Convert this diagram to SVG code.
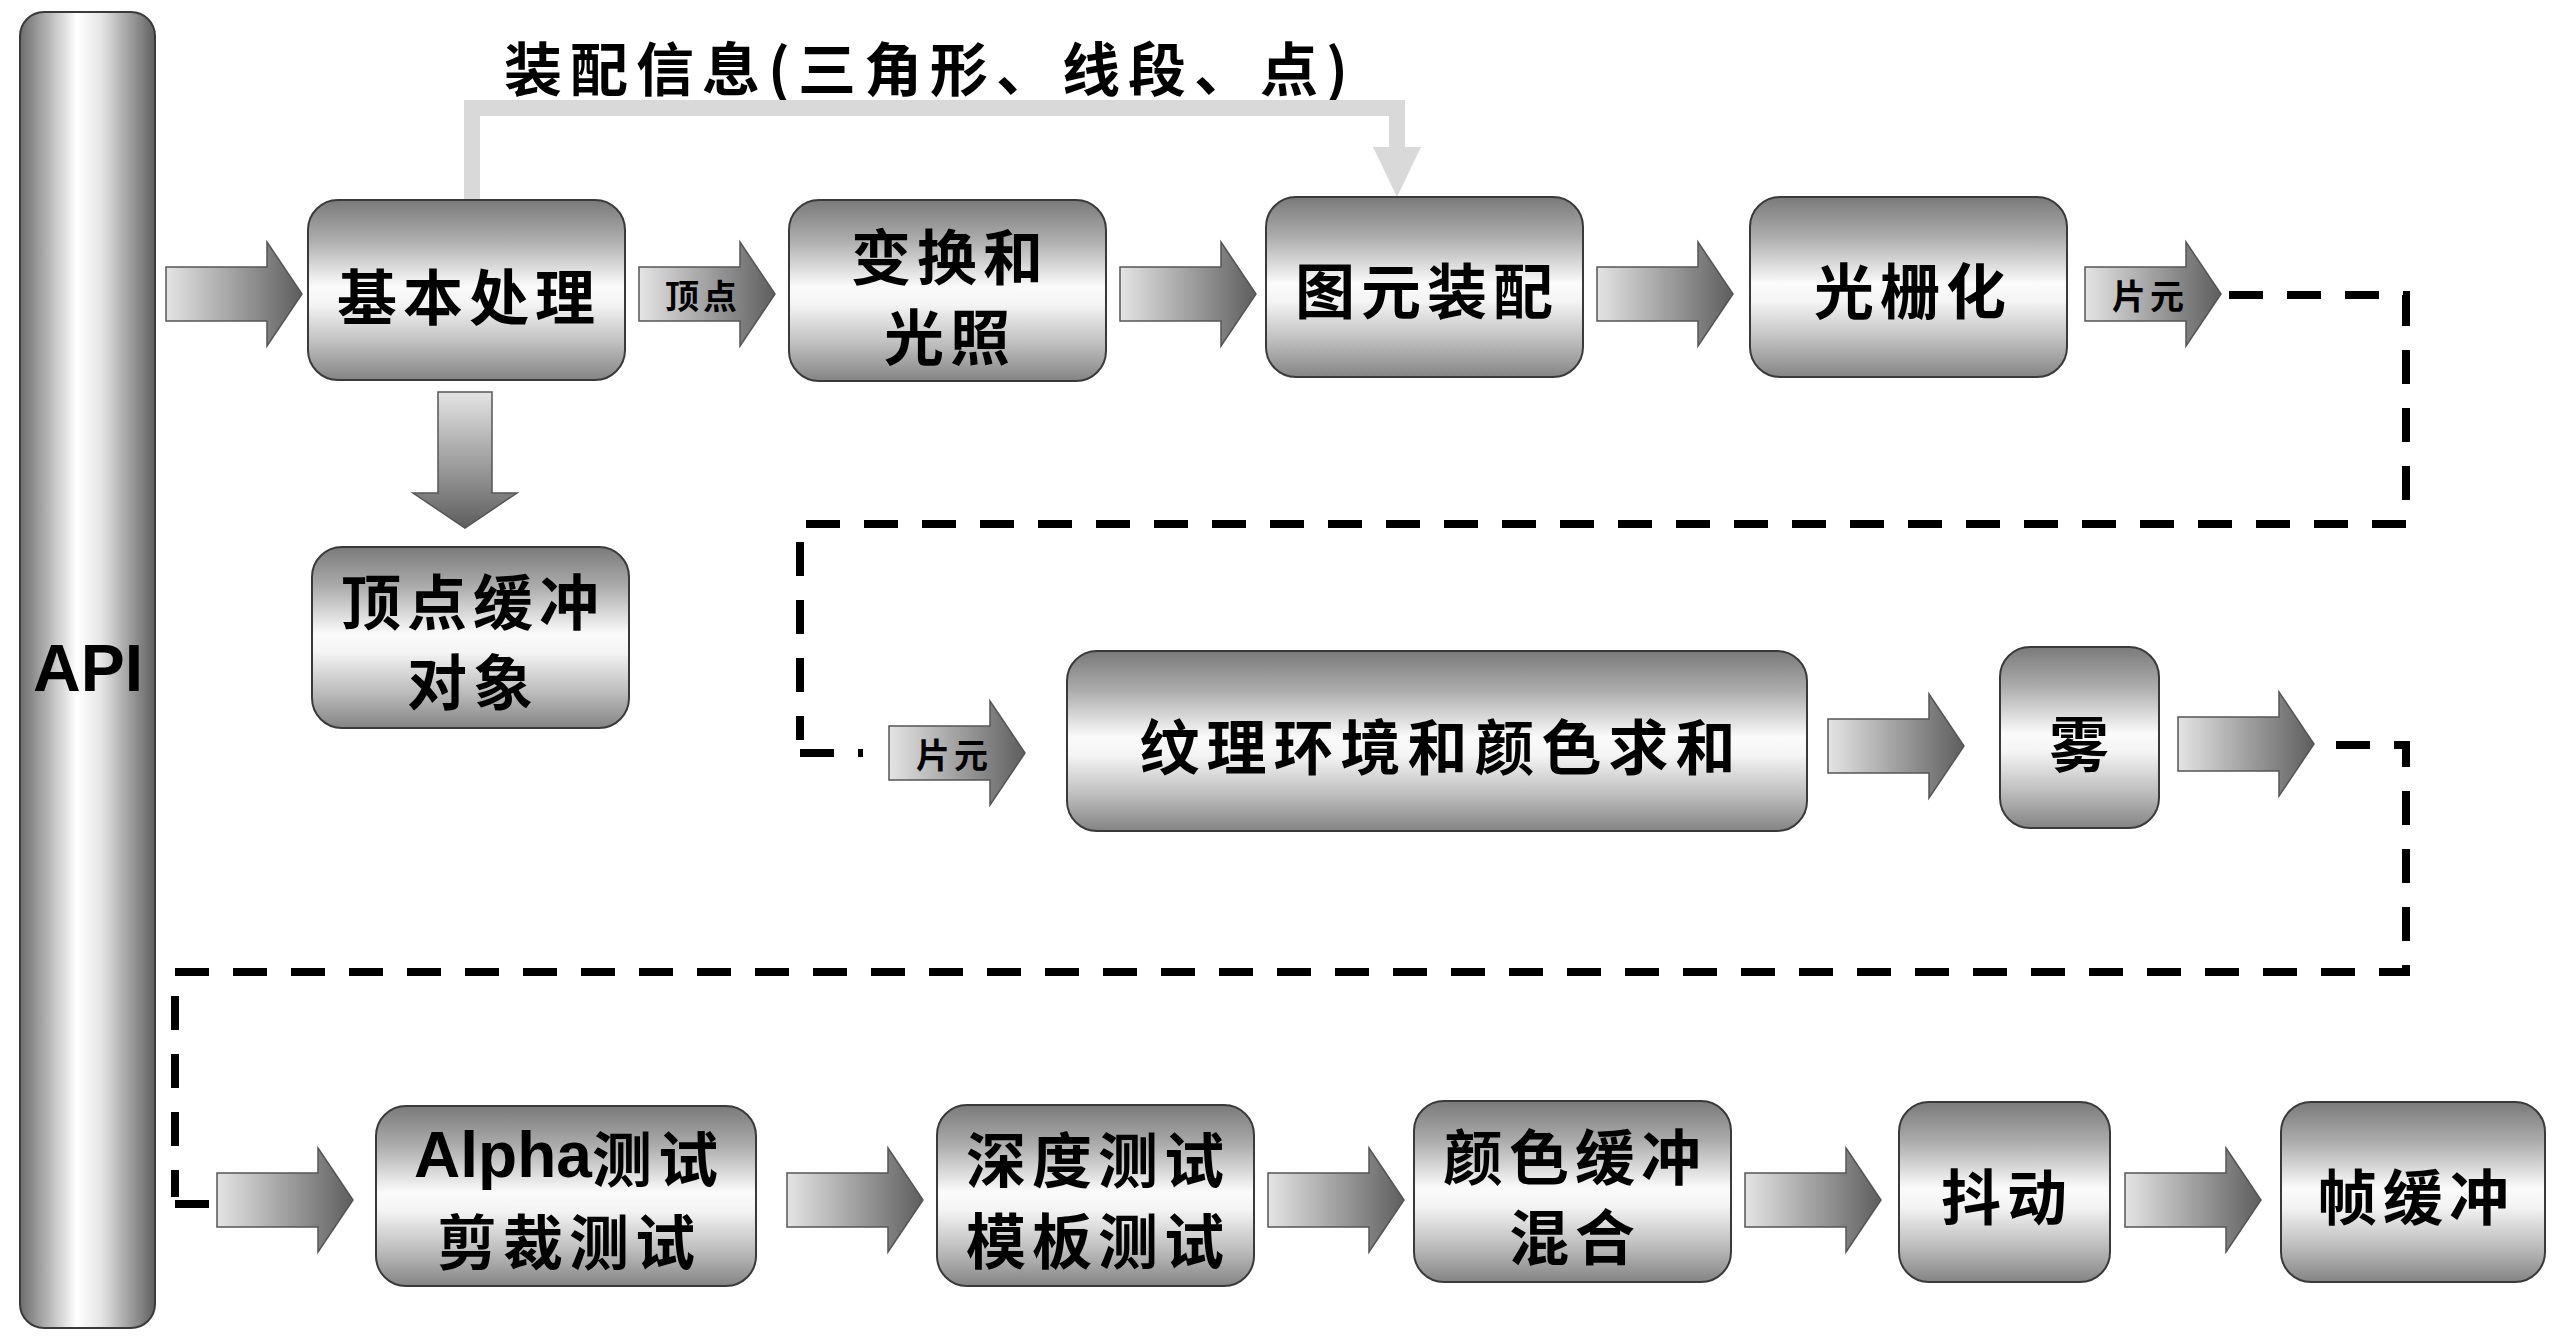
<svg xmlns="http://www.w3.org/2000/svg" xmlns:xlink="http://www.w3.org/1999/xlink" width="2560" height="1339" viewBox="0 0 2560 1339">
  <defs>
    <linearGradient id="gBox" x1="0" y1="0" x2="0" y2="1">
      <stop offset="0" stop-color="#7a7a7a"/>
      <stop offset="0.22" stop-color="#acacac"/>
      <stop offset="0.48" stop-color="#fbfbfb"/>
      <stop offset="0.58" stop-color="#f4f4f4"/>
      <stop offset="0.8" stop-color="#bdbdbd"/>
      <stop offset="1" stop-color="#848484"/>
    </linearGradient>
    <linearGradient id="gApi" x1="0" y1="0" x2="1" y2="0">
      <stop offset="0" stop-color="#6c6c6c"/>
      <stop offset="0.42" stop-color="#ffffff"/>
      <stop offset="0.6" stop-color="#e6e6e6"/>
      <stop offset="1" stop-color="#5f5f5f"/>
    </linearGradient>
    <linearGradient id="gArrow" x1="0" y1="0" x2="1" y2="0">
      <stop offset="0" stop-color="#e4e4e4"/>
      <stop offset="1" stop-color="#5e5e5e"/>
    </linearGradient>
    <!-- block arrow pointing right, tip at (136,0) -->
    <path id="blockArrow" d="M0,-27 H101 V-52 L136,0 L101,52 V27 H0 Z" fill="url(#gArrow)" stroke="#555" stroke-width="1.5"/>
    <style>
      .box { fill: url(#gBox); stroke: #3a3a3a; stroke-width: 2; }
      .t { font-family: "Noto Sans CJK SC", "Liberation Sans", sans-serif; font-weight: 700; fill: #000; text-anchor: middle; dominant-baseline: central; }
      .big { font-size: 60px; letter-spacing: 6px; }
      .small { font-size: 34px; letter-spacing: 4px; }
      .dash { fill: none; stroke: #000; stroke-width: 8; stroke-dasharray: 34 24; }
      .dashEnd { fill: none; stroke: #000; stroke-width: 8; }
      .feed { fill: none; stroke: #d9d9d9; stroke-width: 16; }
    </style>
  </defs>

  <!-- API column -->
  <g id="api">
    <rect x="20" y="12" width="135" height="1316" rx="24" fill="url(#gApi)" stroke="#3a3a3a" stroke-width="2"/>
    <text x="88" y="668" font-family="Liberation Sans, sans-serif" font-weight="700" font-size="66" text-anchor="middle" dominant-baseline="central">API</text>
  </g>

  <!-- title of the assembly feed -->
  <text id="assembly-info" class="t" x="930" y="66" font-size="58" letter-spacing="8">装配信息(三角形、线段、点)</text>

  <!-- connectors -->
  <g id="connectors">
    <!-- assembly info feed from basic processing to primitive assembly -->
    <path class="feed" d="M472,200 V108 H1397 V150"/>
    <polygon points="1373,147 1421,147 1397,197" fill="#d9d9d9"/>

    <!-- block arrows, row 1 -->
    <use href="#blockArrow" transform="translate(166,294)"/>
    <use href="#blockArrow" transform="translate(639,294)"/>
    <use href="#blockArrow" transform="translate(1120,294)"/>
    <use href="#blockArrow" transform="translate(1597,294)"/>
    <use href="#blockArrow" transform="translate(2085,294)"/>
    <!-- down to vertex buffer object -->
    <use href="#blockArrow" transform="translate(465,392) rotate(90)"/>

    <!-- row 2 -->
    <use href="#blockArrow" transform="translate(889,753)"/>
    <use href="#blockArrow" transform="translate(1828,746)"/>
    <use href="#blockArrow" transform="translate(2178,744)"/>

    <!-- row 3 -->
    <use href="#blockArrow" transform="translate(217,1200)"/>
    <use href="#blockArrow" transform="translate(787,1200)"/>
    <use href="#blockArrow" transform="translate(1268,1200)"/>
    <use href="#blockArrow" transform="translate(1745,1200)"/>
    <use href="#blockArrow" transform="translate(2125,1200)"/>

    <!-- arrow labels -->
    <text class="t small" x="703" y="294">顶点</text>
    <text class="t small" x="2150" y="294">片元</text>
    <text class="t small" x="954" y="753">片元</text>

    <!-- dashed wrap-around lines -->
    <path class="dash" d="M2229,295 H2406 V524 H800 V740"/>
    <path class="dashEnd" d="M800,753 H834 M858,753 H863"/>
    <path class="dash" d="M2336,745 H2406 V972 H175 V1197"/>
    <path class="dashEnd" d="M175,1204 H209"/>
  </g>

  <!-- row 1 -->
  <g id="basic-processing">
    <rect class="box" x="308" y="200" width="317" height="180" rx="30"/>
    <text class="t big" x="469" y="293">基本处理</text>
  </g>
  <g id="transform-lighting">
    <rect class="box" x="789" y="200" width="317" height="181" rx="30"/>
    <text class="t big" x="950" y="253">变换和</text>
    <text class="t big" x="950" y="333">光照</text>
  </g>
  <g id="primitive-assembly">
    <rect class="box" x="1266" y="197" width="317" height="180" rx="30"/>
    <text class="t big" x="1427" y="287">图元装配</text>
  </g>
  <g id="rasterization">
    <rect class="box" x="1750" y="197" width="317" height="180" rx="30"/>
    <text class="t big" x="1913" y="287">光栅化</text>
  </g>
  <g id="vertex-buffer-object">
    <rect class="box" x="312" y="547" width="317" height="181" rx="30"/>
    <text class="t big" x="473" y="598">顶点缓冲</text>
    <text class="t big" x="473" y="678">对象</text>
  </g>

  <!-- row 2 -->
  <g id="texture-color-sum">
    <rect class="box" x="1067" y="651" width="740" height="180" rx="30"/>
    <text class="t" x="1441" y="743" font-size="60" letter-spacing="7">纹理环境和颜色求和</text>
  </g>
  <g id="fog">
    <rect class="box" x="2000" y="647" width="159" height="181" rx="30"/>
    <text class="t big" x="2082" y="740">雾</text>
  </g>

  <!-- row 3 -->
  <g id="alpha-scissor-test">
    <rect class="box" x="376" y="1106" width="380" height="180" rx="30"/>
    <text class="t big" x="569" y="1155"><tspan font-family="Liberation Sans, sans-serif" font-size="64" letter-spacing="0">Alpha</tspan>测试</text>
    <text class="t big" x="569" y="1238">剪裁测试</text>
  </g>
  <g id="depth-stencil-test">
    <rect class="box" x="937" y="1105" width="317" height="181" rx="30"/>
    <text class="t big" x="1098" y="1156">深度测试</text>
    <text class="t big" x="1098" y="1237">模板测试</text>
  </g>
  <g id="color-buffer-blend">
    <rect class="box" x="1414" y="1101" width="317" height="181" rx="30"/>
    <text class="t big" x="1575" y="1153">颜色缓冲</text>
    <text class="t big" x="1575" y="1233">混合</text>
  </g>
  <g id="dither">
    <rect class="box" x="1899" y="1102" width="211" height="180" rx="30"/>
    <text class="t big" x="2007" y="1193">抖动</text>
  </g>
  <g id="frame-buffer">
    <rect class="box" x="2281" y="1102" width="264" height="180" rx="30"/>
    <text class="t big" x="2416" y="1193">帧缓冲</text>
  </g>
</svg>
